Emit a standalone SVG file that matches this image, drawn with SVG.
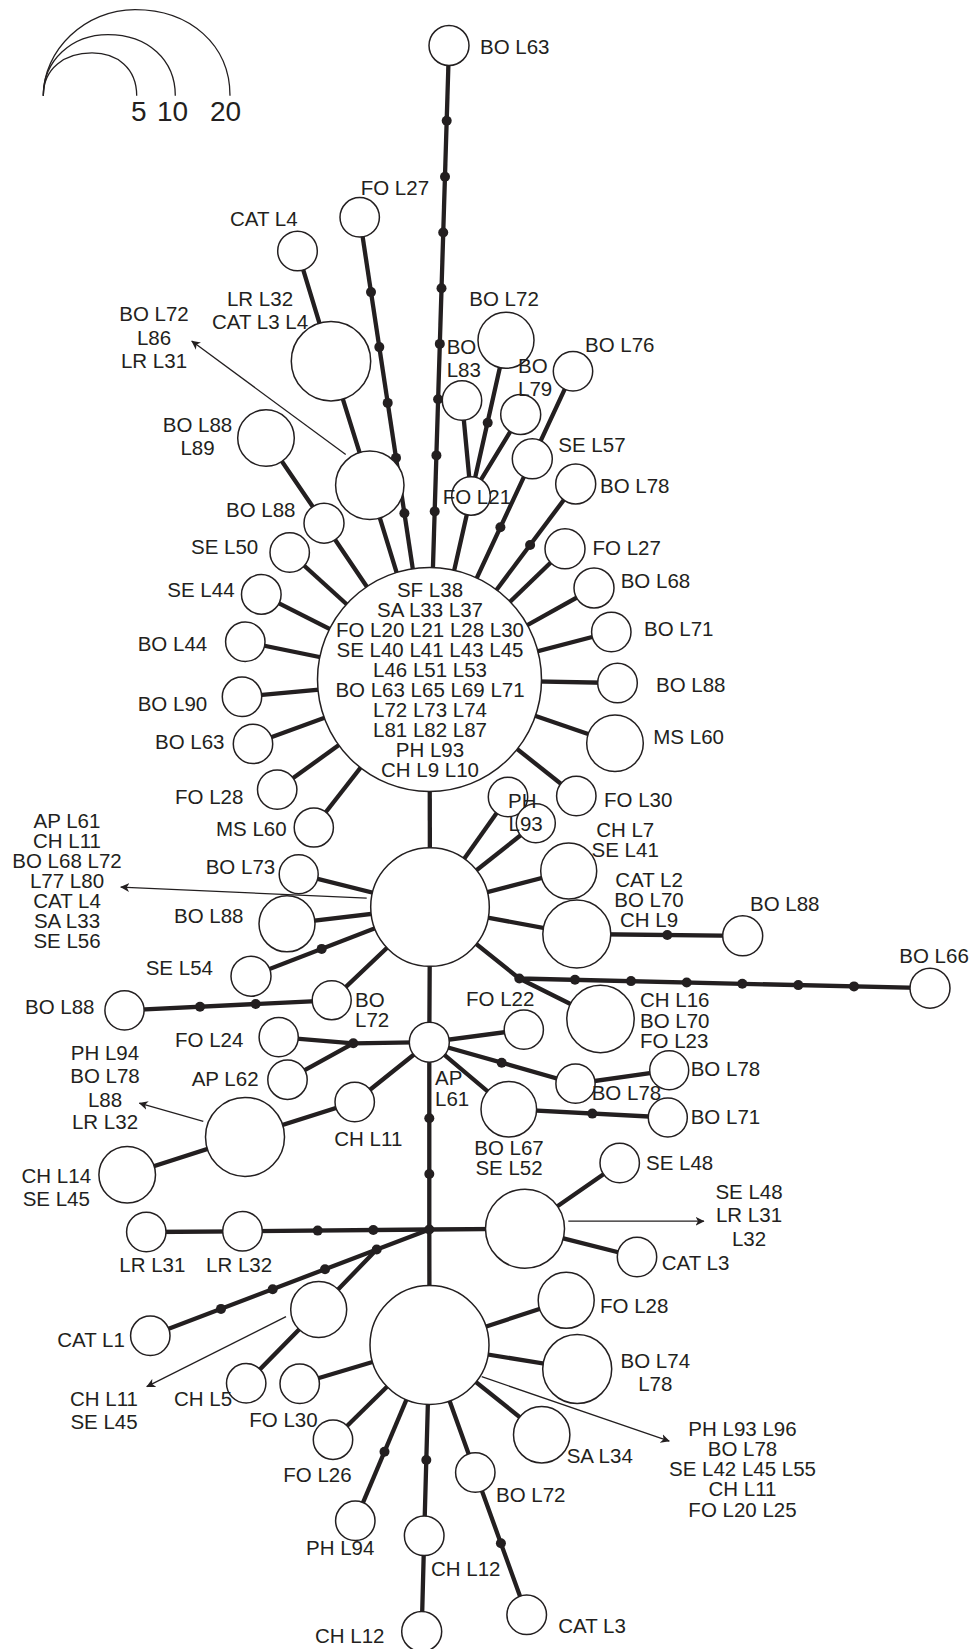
<svg xmlns="http://www.w3.org/2000/svg" width="973" height="1649" viewBox="0 0 973 1649">
<style>
.e{stroke:#231f20;stroke-width:4.3;fill:none;stroke-linecap:butt}
.a{stroke:#231f20;stroke-width:1.3;fill:none;marker-end:url(#ah)}
.d{fill:#231f20}
.c{fill:#fff;stroke:#231f20;stroke-width:1.5}
text{font-family:"Liberation Sans",Arial,sans-serif;font-size:20.5px;fill:#231f20}
.m{text-anchor:middle}
.lg{fill:none;stroke:#231f20;stroke-width:1.3}
.lt{font-size:28px}
</style>
<defs>
<marker id="ah" viewBox="0 0 9 10" refX="8.5" refY="5" markerWidth="9" markerHeight="10" markerUnits="userSpaceOnUse" orient="auto">
<path d="M0,0.5 L9,5 L0,9.5 L2.5,5 z" fill="#231f20"/>
</marker>
</defs>
<rect width="973" height="1649" fill="#fff"/>
<g id="legend">
<path class="lg" d="M43.3,95.7 C43.3,68 65,52.9 92,52.9 C117,52.9 136.7,68 136.7,95.7"/>
<path class="lg" d="M43.3,95.7 C43.3,60 72,34.6 108,34.6 C148,34.6 175.3,60 175.3,95.7"/>
<path class="lg" d="M43.3,95.7 C43.3,50 85,9.6 135,9.6 C190,9.6 230,45 230,95.7"/>
<text class="lt" x="131" y="121.4">5</text>
<text class="lt" x="157" y="121.4">10</text>
<text class="lt" x="210" y="121.4">20</text>
</g>
<g id="connectors">
<path class="e" d="M449,45.5 L429.5,679.5"/>
<path class="e" d="M359.7,217.3 L429.5,679.5"/>
<path class="e" d="M297.5,251 L331,361.2 L369.8,485.3 L429.5,679.5"/>
<path class="e" d="M266,438 L324,523.2 L429.5,679.5"/>
<path class="e" d="M506,340.3 L471,496 L429.5,679.5"/>
<path class="e" d="M462,400.5 L471,496 L520.7,414.5"/>
<path class="e" d="M573,371.3 L532.3,458.8 L429.5,679.5"/>
<path class="e" d="M575.7,484 L429.5,679.5"/>
<path class="e" d="M565,548.8 L429.5,679.5"/>
<path class="e" d="M594,588 L429.5,679.5"/>
<path class="e" d="M611.3,632 L429.5,679.5"/>
<path class="e" d="M617.5,683 L429.5,679.5"/>
<path class="e" d="M615,743.2 L429.5,679.5"/>
<path class="e" d="M576.3,796 L429.5,679.5"/>
<path class="e" d="M289.7,552.5 L429.5,679.5"/>
<path class="e" d="M261.3,594.4 L429.5,679.5"/>
<path class="e" d="M245.3,641.8 L429.5,679.5"/>
<path class="e" d="M242,696.8 L429.5,679.5"/>
<path class="e" d="M253,743.9 L429.5,679.5"/>
<path class="e" d="M277.2,789.6 L429.5,679.5"/>
<path class="e" d="M313.8,827.5 L429.5,679.5"/>
<path class="e" d="M429.5,679.5 L430,907"/>
<path class="e" d="M508,797 L430,907"/>
<path class="e" d="M535.8,823.2 L430,907"/>
<path class="e" d="M568.7,871 L430,907"/>
<path class="e" d="M430,907 L576.8,934 L742.7,935.8"/>
<path class="e" d="M430,907 L519.3,978.5 L930,988.2"/>
<path class="e" d="M519.3,978.5 L600.5,1019"/>
<path class="e" d="M298.7,874.2 L430,907"/>
<path class="e" d="M287,923.8 L430,907"/>
<path class="e" d="M251,976.2 L430,907"/>
<path class="e" d="M124.5,1010.4 L331.7,1000.3 L430,907"/>
<path class="e" d="M430,907 L429.3,1042.2 L523.8,1029.7"/>
<path class="e" d="M429.3,1042.2 L353.3,1043.3 L278.7,1037.2"/>
<path class="e" d="M353.3,1043.3 L287.5,1079.7"/>
<path class="e" d="M429.3,1042.2 L354.7,1102 L245,1136.9 L127.2,1174.8"/>
<path class="e" d="M429.3,1042.2 L575.5,1083.7 L669.2,1070.3"/>
<path class="e" d="M429.3,1042.2 L508.8,1109.2 L667.8,1117.5"/>
<path class="e" d="M429.3,1042.2 L429.3,1229.5 L429.5,1345"/>
<path class="e" d="M429.3,1229.5 L525,1228.7"/>
<path class="e" d="M619.7,1163 L525,1228.7 L637,1257"/>
<path class="e" d="M429.3,1229.5 L242.5,1231.3 L146.3,1232"/>
<path class="e" d="M429.3,1229.5 L150.3,1335.8"/>
<path class="e" d="M376.7,1249.5 L318.7,1309.5 L246.2,1383.3"/>
<path class="e" d="M429.5,1345 L299.7,1383.8"/>
<path class="e" d="M429.5,1345 L333,1439.7"/>
<path class="e" d="M429.5,1345 L355.3,1520.8"/>
<path class="e" d="M429.5,1345 L424.2,1535.8 L421.7,1631.5"/>
<path class="e" d="M429.5,1345 L475.3,1472.5 L526.7,1614.7"/>
<path class="e" d="M429.5,1345 L541.7,1434.7"/>
<path class="e" d="M429.5,1345 L577.2,1369"/>
<path class="e" d="M429.5,1345 L566.2,1300.3"/>
<g class="d">
<circle cx="446.7" cy="120.7" r="5"/><circle cx="445" cy="176.8" r="5"/><circle cx="443.2" cy="232.5" r="5"/><circle cx="441.5" cy="288.2" r="5"/>
<circle cx="439.8" cy="343.9" r="5"/><circle cx="438.1" cy="399.3" r="5"/><circle cx="436.4" cy="455.4" r="5"/><circle cx="434.7" cy="511.4" r="5"/>
<circle cx="371" cy="292.1" r="5"/><circle cx="379.3" cy="347.1" r="5"/><circle cx="387.7" cy="402.9" r="5"/><circle cx="396" cy="457.9" r="5"/><circle cx="404.4" cy="513.2" r="5"/>
<circle cx="487.7" cy="422.7" r="5"/><circle cx="500.4" cy="527.3" r="5"/><circle cx="530.1" cy="545" r="5"/>
<circle cx="667.3" cy="935" r="5"/>
<circle cx="519.3" cy="978.5" r="5"/><circle cx="575" cy="979.8" r="5"/><circle cx="631" cy="981.1" r="5"/><circle cx="686.7" cy="982.5" r="5"/><circle cx="742.3" cy="983.8" r="5"/><circle cx="798.3" cy="985.1" r="5"/><circle cx="854" cy="986.4" r="5"/>
<circle cx="321.7" cy="948.9" r="5"/><circle cx="200" cy="1006.7" r="5"/><circle cx="255.7" cy="1004" r="5"/>
<circle cx="353.3" cy="1043.3" r="5"/><circle cx="501.7" cy="1062.8" r="5"/><circle cx="592.3" cy="1113.6" r="5"/>
<circle cx="429.3" cy="1118.3" r="5"/><circle cx="429.3" cy="1174" r="5"/><circle cx="429.3" cy="1229.5" r="5"/>
<circle cx="373.3" cy="1230" r="5"/><circle cx="317.7" cy="1230.6" r="5"/>
<circle cx="376.7" cy="1249.5" r="5"/><circle cx="325" cy="1269.2" r="5"/><circle cx="272.7" cy="1289.2" r="5"/><circle cx="221" cy="1308.9" r="5"/>
<circle cx="384.5" cy="1451.7" r="5"/><circle cx="426.3" cy="1460" r="5"/><circle cx="500.9" cy="1543.3" r="5"/>
</g>
<path class="a" d="M345.7,454.6 L191.7,341"/>
<path class="a" d="M366.7,898.2 L120.7,887.1"/>
<path class="a" d="M203.3,1121.4 L139.3,1103.2"/>
<path class="a" d="M568.3,1221.2 L704,1221.2"/>
<path class="a" d="M286,1316.7 L146.7,1386.7"/>
<path class="a" d="M481.7,1376.7 L669.3,1441.2"/>
</g>
<g id="n1"><circle class="c" cx="449" cy="45.5" r="20"/><text x="480" y="54">BO L63</text></g>
<g id="n2"><circle class="c" cx="359.7" cy="217.3" r="19.7"/><text x="360.7" y="194.6">FO L27</text></g>
<g id="n3"><circle class="c" cx="297.5" cy="251" r="19.8"/><text x="230" y="225.7">CAT L4</text></g>
<g id="n4"><circle class="c" cx="331" cy="361.2" r="39.7"/><text class="m" x="260" y="306.4">LR L32</text><text class="m" x="260" y="328.6">CAT L3 L4</text></g>
<g id="n5"><circle class="c" cx="369.8" cy="485.3" r="34.2"/><text class="m" x="154" y="321.4">BO L72</text><text class="m" x="154" y="344.6">L86</text><text class="m" x="154" y="367.9">LR L31</text></g>
<g id="n6"><circle class="c" cx="266" cy="438" r="28.3"/><text class="m" x="197.5" y="432">BO L88</text><text class="m" x="197.5" y="454.6">L89</text></g>
<g id="n7"><circle class="c" cx="324" cy="523.2" r="20"/><text x="226" y="516.8">BO L88</text></g>
<g id="n8"><circle class="c" cx="506" cy="340.3" r="28"/><text x="469.3" y="305.7">BO L72</text></g>
<g id="n9"><circle class="c" cx="462" cy="400.5" r="19.7"/><text x="446.7" y="354">BO</text><text x="446.7" y="376.7">L83</text></g>
<g id="n10"><circle class="c" cx="520.7" cy="414.5" r="20"/><text x="518" y="373.3">BO</text><text x="518" y="396">L79</text></g>
<g id="n11"><circle class="c" cx="471" cy="496" r="19.3"/><text x="442.7" y="504">FO L21</text></g>
<g id="n12"><circle class="c" cx="573" cy="371.3" r="19.7"/><text x="585" y="351.7">BO L76</text></g>
<g id="n13"><circle class="c" cx="532.3" cy="458.8" r="20"/><text x="558.3" y="451.7">SE L57</text></g>
<g id="n14"><circle class="c" cx="575.7" cy="484" r="20"/><text x="600" y="492.9">BO L78</text></g>
<g id="n15"><circle class="c" cx="565" cy="548.8" r="20"/><text x="592.5" y="554.5">FO L27</text></g>
<g id="n16"><circle class="c" cx="594" cy="588" r="20"/><text x="620.7" y="588.2">BO L68</text></g>
<g id="n17"><circle class="c" cx="611.3" cy="632" r="19.7"/><text x="644" y="636.4">BO L71</text></g>
<g id="n18"><circle class="c" cx="617.5" cy="683" r="19.8"/><text x="656" y="691.8">BO L88</text></g>
<g id="n19"><circle class="c" cx="615" cy="743.2" r="28.3"/><text x="653.3" y="744.3">MS L60</text></g>
<g id="n20"><circle class="c" cx="576.3" cy="796" r="19.7"/><text x="604" y="807.1">FO L30</text></g>
<g id="n21"><circle class="c" cx="429.5" cy="679.5" r="112"/>
<text class="m" x="430" y="597.3">SF L38</text>
<text class="m" x="430" y="617.3">SA L33 L37</text>
<text class="m" x="430" y="637.3">FO L20 L21 L28 L30</text>
<text class="m" x="430" y="657.3">SE L40 L41 L43 L45</text>
<text class="m" x="430" y="677.3">L46 L51 L53</text>
<text class="m" x="430" y="697.3">BO L63 L65 L69 L71</text>
<text class="m" x="430" y="717.3">L72 L73 L74</text>
<text class="m" x="430" y="737.3">L81 L82 L87</text>
<text class="m" x="430" y="757.3">PH L93</text>
<text class="m" x="430" y="777.3">CH L9 L10</text>
</g>
<g id="n22"><circle class="c" cx="289.7" cy="552.5" r="19.7"/><text x="191" y="553.6">SE L50</text></g>
<g id="n23"><circle class="c" cx="261.3" cy="594.4" r="19.8"/><text x="167.3" y="597.1">SE L44</text></g>
<g id="n24"><circle class="c" cx="245.3" cy="641.8" r="19.7"/><text x="137.7" y="651.4">BO L44</text></g>
<g id="n25"><circle class="c" cx="242" cy="696.8" r="19.7"/><text x="137.7" y="710.7">BO L90</text></g>
<g id="n26"><circle class="c" cx="253" cy="743.9" r="19.7"/><text x="155" y="748.9">BO L63</text></g>
<g id="n27"><circle class="c" cx="277.2" cy="789.6" r="19.7"/><text x="175" y="803.6">FO L28</text></g>
<g id="n28"><circle class="c" cx="313.8" cy="827.5" r="19.6"/><text x="216" y="836.4">MS L60</text></g>
<g id="n29"><circle class="c" cx="508" cy="797" r="19.7"/><circle class="c" cx="535.8" cy="823.2" r="19.5"/><text x="508" y="808">PH</text><text x="508.5" y="830.5">L93</text></g>
<g id="n30"><circle class="c" cx="430" cy="907" r="59.3"/>
<text class="m" x="67" y="827.5">AP L61</text>
<text class="m" x="67" y="847.6">CH L11</text>
<text class="m" x="67" y="867.8">BO L68 L72</text>
<text class="m" x="67" y="888">L77 L80</text>
<text class="m" x="67" y="908">CAT L4</text>
<text class="m" x="67" y="928.3">SA L33</text>
<text class="m" x="67" y="948.3">SE L56</text>
</g>
<g id="n31"><circle class="c" cx="568.7" cy="871" r="28"/><text class="m" x="625.2" y="837.1">CH L7</text><text class="m" x="625.2" y="857.1">SE L41</text></g>
<g id="n32"><circle class="c" cx="576.8" cy="934" r="34"/><text class="m" x="649" y="887.1">CAT L2</text><text class="m" x="649" y="907.1">BO L70</text><text class="m" x="649" y="926.8">CH L9</text></g>
<g id="n33"><circle class="c" cx="742.7" cy="935.8" r="20"/><text x="750" y="911.4">BO L88</text></g>
<g id="n34"><circle class="c" cx="930" cy="988.2" r="20"/><text x="899.3" y="963.2">BO L66</text></g>
<g id="n35"><circle class="c" cx="600.5" cy="1019" r="33.7"/><text x="640" y="1007.1">CH L16</text><text x="640" y="1027.5">BO L70</text><text x="640" y="1047.9">FO L23</text></g>
<g id="n36"><circle class="c" cx="298.7" cy="874.2" r="19.5"/><text x="205.7" y="873.9">BO L73</text></g>
<g id="n37"><circle class="c" cx="287" cy="923.8" r="28"/><text x="174" y="923.2">BO L88</text></g>
<g id="n38"><circle class="c" cx="251" cy="976.2" r="20"/><text x="145.7" y="975">SE L54</text></g>
<g id="n39"><circle class="c" cx="331.7" cy="1000.3" r="19.5"/><text x="355" y="1006.7">BO</text><text x="355" y="1026.7">L72</text></g>
<g id="n40"><circle class="c" cx="124.5" cy="1010.4" r="19.6"/><text x="25" y="1014.3">BO L88</text></g>
<g id="n41"><circle class="c" cx="429.3" cy="1042.2" r="20"/><text x="435" y="1085">AP</text><text x="435" y="1105.7">L61</text></g>
<g id="n42"><circle class="c" cx="523.8" cy="1029.7" r="19.6"/><text x="466" y="1005.7">FO L22</text></g>
<g id="n43"><circle class="c" cx="278.7" cy="1037.2" r="19.6"/><text x="175" y="1047.1">FO L24</text></g>
<g id="n44"><circle class="c" cx="287.5" cy="1079.7" r="19.7"/><text x="191.7" y="1086.4">AP L62</text></g>
<g id="n45"><circle class="c" cx="354.7" cy="1102" r="19.7"/><text x="334.3" y="1146">CH L11</text></g>
<g id="n46"><circle class="c" cx="245" cy="1136.9" r="39.5"/><text class="m" x="105" y="1059.6">PH L94</text><text class="m" x="105" y="1082.9">BO L78</text><text class="m" x="105" y="1106.8">L88</text><text class="m" x="105" y="1129.2">LR L32</text></g>
<g id="n47"><circle class="c" cx="127.2" cy="1174.8" r="28.3"/><text class="m" x="56.3" y="1183.4">CH L14</text><text class="m" x="56.3" y="1205.9">SE L45</text></g>
<g id="n48"><circle class="c" cx="575.5" cy="1083.7" r="19.6"/><text x="591.7" y="1100">BO L78</text></g>
<g id="n49"><circle class="c" cx="669.2" cy="1070.3" r="19.5"/><text x="690.7" y="1075.7">BO L78</text></g>
<g id="n50"><circle class="c" cx="508.8" cy="1109.2" r="27.8"/><text class="m" x="509" y="1155">BO L67</text><text class="m" x="509" y="1175">SE L52</text></g>
<g id="n51"><circle class="c" cx="667.8" cy="1117.5" r="19.5"/><text x="690.7" y="1123.9">BO L71</text></g>
<g id="n52"><circle class="c" cx="525" cy="1228.7" r="39.5"/><text class="m" x="749" y="1198.7">SE L48</text><text class="m" x="749" y="1221.9">LR L31</text><text class="m" x="749" y="1245.8">L32</text></g>
<g id="n53"><circle class="c" cx="619.7" cy="1163" r="19.7"/><text x="646" y="1170">SE L48</text></g>
<g id="n54"><circle class="c" cx="637" cy="1257" r="19.7"/><text x="661.7" y="1270">CAT L3</text></g>
<g id="n55"><circle class="c" cx="242.5" cy="1231.3" r="19.8"/><text x="206" y="1271.7">LR L32</text></g>
<g id="n56"><circle class="c" cx="146.3" cy="1232" r="19.7"/><text x="119.3" y="1271.7">LR L31</text></g>
<g id="n57"><circle class="c" cx="150.3" cy="1335.8" r="19.7"/><text x="57.3" y="1346.7">CAT L1</text></g>
<g id="n58"><circle class="c" cx="318.7" cy="1309.5" r="28"/><text class="m" x="104" y="1405.5">CH L11</text><text class="m" x="104" y="1428.7">SE L45</text></g>
<g id="n59"><circle class="c" cx="246.2" cy="1383.3" r="19.7"/><text x="174" y="1405.5">CH L5</text></g>
<g id="n60"><circle class="c" cx="429.5" cy="1345" r="59.5"/>
<text class="m" x="742.5" y="1435.8">PH L93 L96</text>
<text class="m" x="742.5" y="1456.1">BO L78</text>
<text class="m" x="742.5" y="1476.1">SE L42 L45 L55</text>
<text class="m" x="742.5" y="1496.4">CH L11</text>
<text class="m" x="742.5" y="1516.7">FO L20 L25</text>
</g>
<g id="n61"><circle class="c" cx="299.7" cy="1383.8" r="19.7"/><text x="249.3" y="1427">FO L30</text></g>
<g id="n62"><circle class="c" cx="333" cy="1439.7" r="19.7"/><text x="283.3" y="1482.2">FO L26</text></g>
<g id="n63"><circle class="c" cx="355.3" cy="1520.8" r="19.7"/><text x="306" y="1555">PH L94</text></g>
<g id="n64"><circle class="c" cx="424.2" cy="1535.8" r="19.8"/><text x="431" y="1576">CH L12</text></g>
<g id="n65"><circle class="c" cx="421.7" cy="1631.5" r="20"/><text x="315" y="1643.3">CH L12</text></g>
<g id="n66"><circle class="c" cx="475.3" cy="1472.5" r="19.7"/><text x="496" y="1501.7">BO L72</text></g>
<g id="n67"><circle class="c" cx="526.7" cy="1614.7" r="19.8"/><text x="558.3" y="1633.3">CAT L3</text></g>
<g id="n68"><circle class="c" cx="541.7" cy="1434.7" r="28.2"/><text x="566.7" y="1463">SA L34</text></g>
<g id="n69"><circle class="c" cx="577.2" cy="1369" r="34.5"/><text class="m" x="655.3" y="1368.1">BO L74</text><text class="m" x="655.3" y="1391.2">L78</text></g>
<g id="n70"><circle class="c" cx="566.2" cy="1300.3" r="28"/><text x="600" y="1312.8">FO L28</text></g>
</svg>
